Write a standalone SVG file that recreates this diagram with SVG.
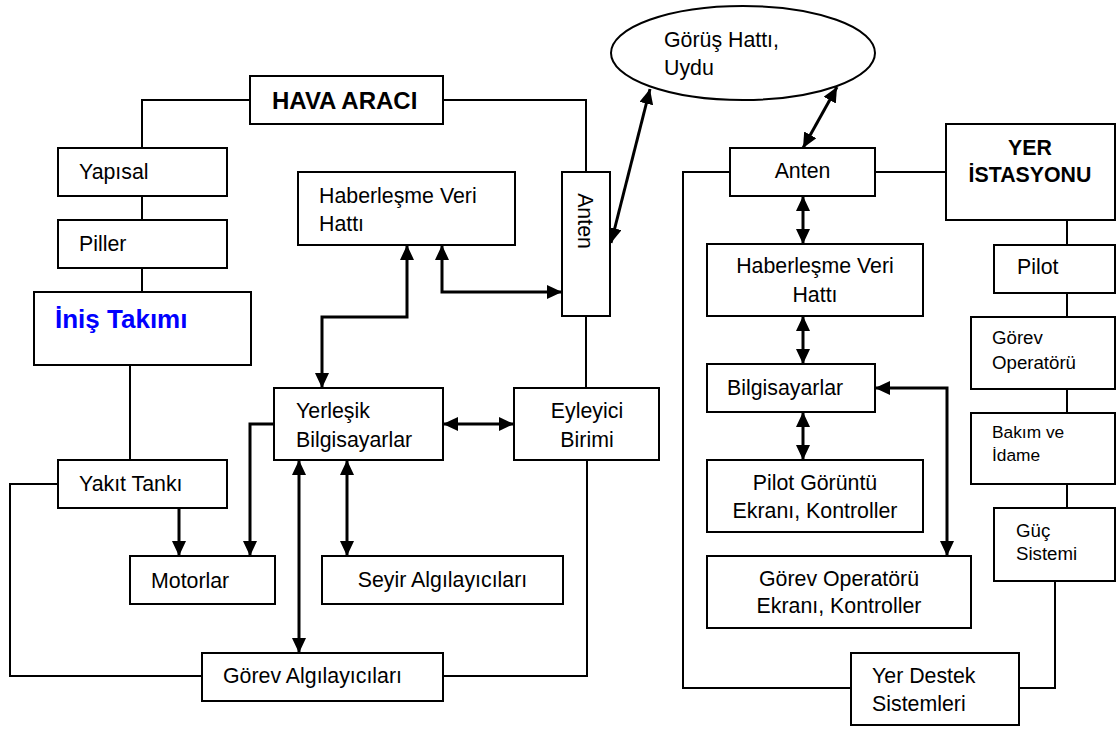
<svg xmlns="http://www.w3.org/2000/svg" width="1117" height="729" viewBox="0 0 1117 729">
<style>
  .box{fill:#fff;stroke:#000;stroke-width:2}
  .t{font-family:"Liberation Sans",Arial,sans-serif;font-size:21.33px;fill:#000}
  .b{font-weight:bold}
  .m{text-anchor:middle}
  .s14{font-size:18.67px}
  .s13{font-size:17.33px}
  .ln{fill:none;stroke:#000;stroke-width:2}
  .ar{fill:none;stroke:#000;stroke-width:3;marker-start:url(#ah);marker-end:url(#ah)}
  .ae{fill:none;stroke:#000;stroke-width:3;marker-end:url(#ah)}
</style>
<defs>
  <marker id="ah" markerWidth="15" markerHeight="14" refX="15" refY="7" orient="auto-start-reverse" markerUnits="userSpaceOnUse">
    <path d="M0,0 L15,7 L0,14 z" fill="#000"/>
  </marker>
</defs>
<rect width="1117" height="729" fill="#fff"/>

<g id="connectors">
  <path class="ln" d="M250,100 H142 V148"/>
  <path class="ln" d="M443,100 H586 V172"/>
  <path class="ln" d="M142,196 V220"/>
  <path class="ln" d="M142,268 V292"/>
  <path class="ln" d="M130,365 V460"/>
  <path class="ln" d="M58,484 H10 V676 H202"/>
  <path class="ln" d="M443,676 H587 V460"/>
  <path class="ln" d="M586,316 V388"/>
  <path class="ln" d="M730,172 H683 V688 H851"/>
  <path class="ln" d="M875,172 H946"/>
  <path class="ln" d="M1067,220 V245"/>
  <path class="ln" d="M1067,293 V317"/>
  <path class="ln" d="M1067,389 V413"/>
  <path class="ln" d="M1067,484 V508"/>
  <path class="ln" d="M1055,581 V688 H1019"/>

  <path class="ar" d="M407,245 V317 H322 V388"/>
  <path class="ar" d="M442,245 V292 H562"/>
  <path class="ar" d="M611,243 L650,89"/>
  <path class="ar" d="M803,148 L837,87"/>
  <path class="ar" d="M803,196 V244"/>
  <path class="ar" d="M803,316 V364"/>
  <path class="ar" d="M803,412 V460"/>
  <path class="ar" d="M875,388 H947 V556"/>
  <path class="ar" d="M443,424 H514"/>
  <path class="ae" d="M274,424 H250 V556"/>
  <path class="ae" d="M179,508 V556"/>
  <path class="ar" d="M299,460 V653"/>
  <path class="ar" d="M347,460 V556"/>
</g>

<g id="hava-araci"><rect class="box" x="250" y="76" width="193" height="48"/><text class="t b" x="272" y="109" style="font-size:24px">HAVA ARACI</text></g>
<g id="yapisal"><rect class="box" x="58" y="148" width="169" height="48"/><text class="t" x="79" y="179">Yapısal</text></g>
<g id="piller"><rect class="box" x="58" y="220" width="169" height="48"/><text class="t" x="79" y="251">Piller</text></g>
<g id="inis-takimi"><rect class="box" x="34" y="292" width="217" height="73"/><text class="t b" x="55" y="328" style="font-size:26px;fill:#0000ff">İniş Takımı</text></g>
<g id="haberlesme-l"><rect class="box" x="298" y="172" width="217" height="73"/><text class="t" x="319" y="203">Haberleşme Veri</text><text class="t" x="319" y="231">Hattı</text></g>
<g id="anten-l"><rect class="box" x="562" y="172" width="48" height="144"/><text class="t m" transform="translate(578,221) rotate(90)">Anten</text></g>
<g id="yerlesik"><rect class="box" x="274" y="388" width="169" height="72"/><text class="t" x="296" y="418">Yerleşik</text><text class="t" x="296" y="447">Bilgisayarlar</text></g>
<g id="eyleyici"><rect class="box" x="514" y="388" width="145" height="72"/><text class="t m" x="587" y="418">Eyleyici</text><text class="t m" x="587" y="447">Birimi</text></g>
<g id="yakit"><rect class="box" x="58" y="460" width="169" height="48"/><text class="t" x="79" y="491">Yakıt Tankı</text></g>
<g id="motorlar"><rect class="box" x="130" y="556" width="145" height="48"/><text class="t" x="151" y="588">Motorlar</text></g>
<g id="seyir"><rect class="box" x="322" y="556" width="241" height="48"/><text class="t m" x="442.5" y="587">Seyir Algılayıcıları</text></g>
<g id="gorev-alg"><rect class="box" x="202" y="653" width="241" height="48"/><text class="t" x="223" y="683">Görev Algılayıcıları</text></g>

<g id="gorus-hatti"><ellipse class="box" cx="743" cy="53" rx="132" ry="47"/><text class="t" x="664" y="47">Görüş Hattı,</text><text class="t" x="664" y="75">Uydu</text></g>

<g id="anten-r"><rect class="box" x="730" y="148" width="145" height="48"/><text class="t m" x="802.5" y="178">Anten</text></g>
<g id="yer-istasyonu"><rect class="box" x="946" y="124" width="169" height="96"/><text class="t b m" x="1030" y="155">YER</text><text class="t b m" x="1030" y="182">İSTASYONU</text></g>
<g id="haberlesme-r"><rect class="box" x="707" y="244" width="216" height="72"/><text class="t m" x="815" y="273">Haberleşme Veri</text><text class="t m" x="815" y="302">Hattı</text></g>
<g id="bilgisayarlar"><rect class="box" x="707" y="364" width="168" height="48"/><text class="t" x="727" y="395">Bilgisayarlar</text></g>
<g id="pilot-goruntu"><rect class="box" x="707" y="460" width="216" height="72"/><text class="t m" x="815" y="490">Pilot Görüntü</text><text class="t m" x="815" y="518">Ekranı, Kontroller</text></g>
<g id="gorev-op-ekrani"><rect class="box" x="707" y="556" width="264" height="72"/><text class="t m" x="839" y="586">Görev Operatörü</text><text class="t m" x="839" y="613">Ekranı, Kontroller</text></g>
<g id="yer-destek"><rect class="box" x="851" y="653" width="168" height="72"/><text class="t" x="872" y="683">Yer Destek</text><text class="t" x="872" y="711">Sistemleri</text></g>
<g id="pilot"><rect class="box" x="994" y="245" width="121" height="48"/><text class="t" x="1017" y="274">Pilot</text></g>
<g id="gorev-operatoru"><rect class="box" x="971" y="317" width="144" height="72"/><text class="t s14" x="992" y="344">Görev</text><text class="t s14" x="992" y="369">Operatörü</text></g>
<g id="bakim"><rect class="box" x="971" y="413" width="144" height="71"/><text class="t s13" x="992" y="438">Bakım ve</text><text class="t s13" x="992" y="461">İdame</text></g>
<g id="guc"><rect class="box" x="994" y="508" width="121" height="73"/><text class="t s14" x="1016" y="537">Güç</text><text class="t s14" x="1016" y="560">Sistemi</text></g>
</svg>
